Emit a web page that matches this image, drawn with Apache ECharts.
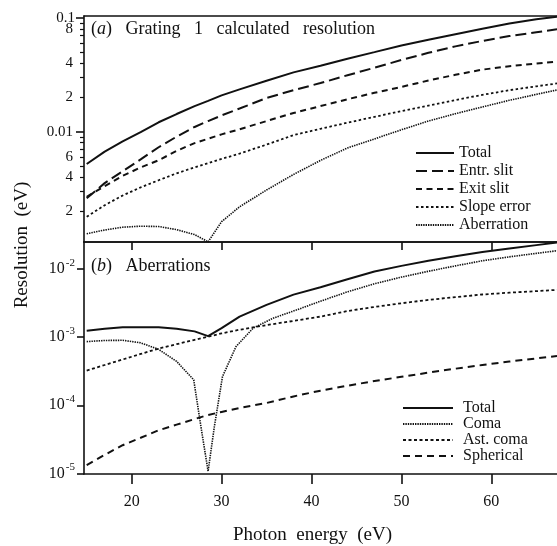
<!DOCTYPE html>
<html>
<head>
<meta charset="utf-8">
<script src="https://cdn.jsdelivr.net/npm/echarts@6/dist/echarts.min.js"></script>
<style>
body { margin: 0; background: #fff; }
#chart { width: 557px; height: 546px; }
</style>
</head>
<body>
<div id="chart"></div>
<script>
// photon energy (eV) sampled along the curves
const energy = [15, 17, 19, 21, 23, 25, 27, 28.5, 30, 32, 35, 38, 41, 44, 47, 50, 53, 56, 59, 62, 65, 67.3];
const comaEnergy = [15, 17, 19, 21, 23, 25, 26.9, 27.7, 28.5, 29.2, 30.1, 31.6, 33.5, 35.7, 38.3, 41, 44, 47, 50, 53, 56, 59, 62, 65, 67.3];

// (a) Grating 1 calculated resolution, eV
const totalA = [5.19e-3, 6.67e-3, 8.2e-3, 9.9e-3, 1.21e-2, 1.43e-2, 1.68e-2, 1.87e-2, 2.09e-2, 2.36e-2, 2.81e-2, 3.33e-2, 3.81e-2, 4.39e-2, 5.02e-2, 5.75e-2, 6.46e-2, 7.21e-2, 8.05e-2, 8.97e-2, 9.77e-2, 0.103];
const entrSlit = [2.59e-3, 3.52e-3, 4.48e-3, 5.70e-3, 7.29e-3, 9.04e-3, 1.10e-2, 1.24e-2, 1.39e-2, 1.60e-2, 1.98e-2, 2.32e-2, 2.68e-2, 3.14e-2, 3.66e-2, 4.28e-2, 4.95e-2, 5.64e-2, 6.30e-2, 6.95e-2, 7.52e-2, 7.98e-2];
const exitSlit = [2.67e-3, 3.31e-3, 4.08e-3, 4.84e-3, 5.60e-3, 6.78e-3, 7.93e-3, 8.67e-3, 9.46e-3, 1.05e-2, 1.24e-2, 1.46e-2, 1.68e-2, 1.93e-2, 2.20e-2, 2.48e-2, 2.82e-2, 3.17e-2, 3.52e-2, 3.77e-2, 3.98e-2, 4.14e-2];
const slopeError = [1.78e-3, 2.25e-3, 2.74e-3, 3.23e-3, 3.73e-3, 4.30e-3, 4.84e-3, 5.28e-3, 5.75e-3, 6.41e-3, 7.69e-3, 9.33e-3, 1.06e-2, 1.20e-2, 1.35e-2, 1.52e-2, 1.70e-2, 1.90e-2, 2.11e-2, 2.32e-2, 2.51e-2, 2.66e-2];
const aberration = [1.26e-3, 1.36e-3, 1.44e-3, 1.47e-3, 1.46e-3, 1.37e-3, 1.24e-3, 1.07e-3, 1.61e-3, 2.18e-3, 3.06e-3, 4.20e-3, 5.58e-3, 7.18e-3, 8.63e-3, 1.04e-2, 1.24e-2, 1.44e-2, 1.65e-2, 1.89e-2, 2.13e-2, 2.33e-2];

// (b) Aberrations, eV
const totalB = [1.25e-3, 1.33e-3, 1.40e-3, 1.40e-3, 1.40e-3, 1.33e-3, 1.22e-3, 1.04e-3, 1.36e-3, 2.01e-3, 2.99e-3, 4.23e-3, 5.43e-3, 7.10e-3, 9.25e-3, 1.12e-2, 1.33e-2, 1.55e-2, 1.79e-2, 2.02e-2, 2.26e-2, 2.46e-2];
const coma = [8.63e-4, 8.97e-4, 9.02e-4, 8.28e-4, 6.64e-4, 4.42e-4, 2.37e-4, 4.89e-5, 1.07e-5, 4.89e-5, 2.64e-4, 7.28e-4, 1.36e-3, 1.90e-3, 2.51e-3, 3.39e-3, 4.65e-3, 6.11e-3, 7.66e-3, 9.33e-3, 1.12e-2, 1.33e-2, 1.52e-2, 1.71e-2, 1.87e-2];
const astComa = [3.24e-4, 3.91e-4, 4.71e-4, 5.68e-4, 6.82e-4, 7.91e-4, 9.16e-4, 1.02e-3, 1.14e-3, 1.29e-3, 1.51e-3, 1.74e-3, 2.01e-3, 2.43e-3, 2.79e-3, 3.16e-3, 3.54e-3, 3.89e-3, 4.25e-3, 4.52e-3, 4.76e-3, 4.97e-3];
const spherical = [1.32e-5, 1.87e-5, 2.59e-5, 3.33e-5, 4.29e-5, 5.19e-5, 6.27e-5, 7.21e-5, 7.98e-5, 9.14e-5, 1.08e-4, 1.35e-4, 1.64e-4, 1.94e-4, 2.27e-4, 2.62e-4, 3.02e-4, 3.45e-4, 3.91e-4, 4.39e-4, 4.89e-4, 5.31e-4];

// tick labels
const xTicks = [20, 30, 40, 50, 60];
const topLabels = [8e-2, 4e-2, 2e-2, 0.01, 6e-3, 4e-3, 2e-3];
const topDecades = [-2, -1];
const bottomDecades = [-2, -3, -4, -5];

const serif = '"Liberation Serif", "DejaVu Serif", serif';
const ink = '#111';
const lg = v => Math.log10(v);

const topMin = -2.972, topMax = -0.981;
const botMin = -5.01, botMax = -1.6;
const xMin = 14.7, xMax = 67.3;

// minor ticks for the top log scale: 2..9 of every decade
const topMinor = [];
[-3, -2].forEach(d => {
  for (let m = 2; m <= 9; m++) {
    const t = d + lg(m);
    if (t > topMin && t < topMax) topMinor.push(t);
  }
});

function logLabel(t) {
  const d = Math.floor(t + 1e-9);
  const m = Math.round(Math.pow(10, t - d));
  return m === 1 ? String(+Math.pow(10, d).toFixed(4)) : String(m);
}

function line(name, xs, ys, dash, width, axis) {
  return {
    name: name,
    type: 'line',
    xAxisIndex: axis[0],
    yAxisIndex: axis[1],
    data: xs.map((x, i) => [x, lg(ys[i])]),
    symbol: 'none',
    lineStyle: { color: ink, width: width, type: dash },
    itemStyle: { color: ink }
  };
}

const chart = echarts.init(document.getElementById('chart'));

const axisLine = { show: true, lineStyle: { color: ink, width: 1.6 } };
const titleStyle = {
  fontFamily: serif, fontSize: 18, fontWeight: 'normal', color: ink,
  rich: { i: { fontFamily: serif, fontSize: 18, fontStyle: 'italic', color: ink } }
};

chart.setOption({
  animation: false,
  backgroundColor: '#fff',
  textStyle: { fontFamily: serif, color: ink },
  title: [
    { text: '({i|a})   Grating   1   calculated   resolution', left: 91, top: 20, padding: 0, textStyle: titleStyle },
    { text: '({i|b})   Aberrations', left: 91, top: 257, padding: 0, textStyle: titleStyle }
  ],
  graphic: [{
    type: 'text',
    x: 22, y: 245,
    rotation: Math.PI / 2,
    style: {
      text: 'Resolution  (eV)',
      font: '19px ' + serif,
      fill: ink,
      align: 'center',
      verticalAlign: 'middle'
    }
  }],
  legend: [
    {
      data: ['Total', 'Entr. slit', 'Exit slit', 'Slope error', 'Aberration'],
      orient: 'vertical',
      left: 415, top: 145, padding: 0,
      itemWidth: 38, itemHeight: 14, itemGap: 2,
      itemStyle: { opacity: 0 },
      textStyle: { fontFamily: serif, fontSize: 16, color: ink },
      selectedMode: false
    },
    {
      data: ['Total', 'Coma', 'Ast. coma', 'Spherical'],
      orient: 'vertical',
      left: 402, top: 400, padding: 0,
      itemWidth: 50, itemHeight: 12, itemGap: 0,
      itemStyle: { opacity: 0 },
      textStyle: { fontFamily: serif, fontSize: 16, color: ink, padding: [0, 0, 0, 5] },
      selectedMode: false
    }
  ],
  grid: [
    { left: 84, right: 0, top: 16, height: 226 },
    { left: 84, right: 0, top: 242, height: 232 }
  ],
  xAxis: [
    { gridIndex: 0, type: 'value', position: 'bottom', min: xMin, max: xMax,
      axisLine: axisLine, axisTick: { show: false }, axisLabel: { show: false }, splitLine: { show: false } },
    { gridIndex: 0, type: 'value', position: 'top', min: xMin, max: xMax,
      axisLine: axisLine, axisTick: { show: false }, axisLabel: { show: false }, splitLine: { show: false } },
    { gridIndex: 1, type: 'value', position: 'bottom', min: xMin, max: xMax,
      axisLine: axisLine,
      axisTick: { show: true, customValues: xTicks, length: 10, lineStyle: { color: ink, width: 1.6 } },
      axisLabel: { customValues: xTicks, margin: 20, fontFamily: serif, fontSize: 16, color: ink },
      splitLine: { show: false },
      name: 'Photon  energy  (eV)', nameLocation: 'middle', nameGap: 52,
      nameTextStyle: { fontFamily: serif, fontSize: 19, color: ink, padding: [0, 16, 0, 0] }
    },
    { gridIndex: 1, type: 'value', position: 'top', min: xMin, max: xMax,
      axisLine: axisLine,
      axisTick: { show: true, inside: true, customValues: xTicks, length: 8, lineStyle: { color: ink, width: 1.6 } },
      axisLabel: { show: false }, splitLine: { show: false } }
  ],
  yAxis: [
    { gridIndex: 0, type: 'value', position: 'left', min: topMin, max: topMax,
      axisLine: axisLine,
      axisTick: { show: true, customValues: topMinor, length: 4, lineStyle: { color: ink, width: 1.2 } },
      axisLabel: {
        customValues: topLabels.map(lg), margin: 11, fontFamily: serif, fontSize: 15, color: ink,
        formatter: logLabel
      },
      splitLine: { show: false } },
    { gridIndex: 0, type: 'value', position: 'left', min: topMin, max: topMax,
      axisLine: { show: false },
      axisTick: { show: true, customValues: topDecades, length: 8, lineStyle: { color: ink, width: 1.6 } },
      axisLabel: {
        customValues: [-1], margin: 9, fontFamily: serif, fontSize: 15, color: ink,
        formatter: logLabel
      },
      splitLine: { show: false } },
    { gridIndex: 1, type: 'value', position: 'left', min: botMin, max: botMax,
      axisLine: axisLine,
      axisTick: { show: true, customValues: bottomDecades, length: 7, lineStyle: { color: ink, width: 1.6 } },
      axisLabel: {
        customValues: bottomDecades, margin: 9, fontFamily: serif, color: ink,
        formatter: t => '{b|10}{s|' + Math.round(t) + '}',
        rich: {
          b: { fontFamily: serif, fontSize: 16, color: ink, lineHeight: 18 },
          s: { fontFamily: serif, fontSize: 11, color: ink, lineHeight: 18, padding: [0, 0, 12, 1] }
        }
      },
      splitLine: { show: false } }
  ],
  series: [
    line('Total', energy, totalA, 'solid', 2, [0, 0]),
    line('Entr. slit', energy, entrSlit, [11, 5], 2, [0, 0]),
    line('Exit slit', energy, exitSlit, [6, 4.5], 2, [0, 0]),
    line('Slope error', energy, slopeError, [2.5, 2.5], 1.8, [0, 0]),
    line('Aberration', energy, aberration, [1.4, 1], 1.6, [0, 0]),
    line('Total', energy, totalB, 'solid', 2, [2, 2]),
    line('Coma', comaEnergy, coma, [1.4, 1], 1.6, [2, 2]),
    line('Ast. coma', energy, astComa, [3, 2.5], 1.8, [2, 2]),
    line('Spherical', energy, spherical, [7, 5], 2, [2, 2])
  ]
});
</script>
</body>
</html>
